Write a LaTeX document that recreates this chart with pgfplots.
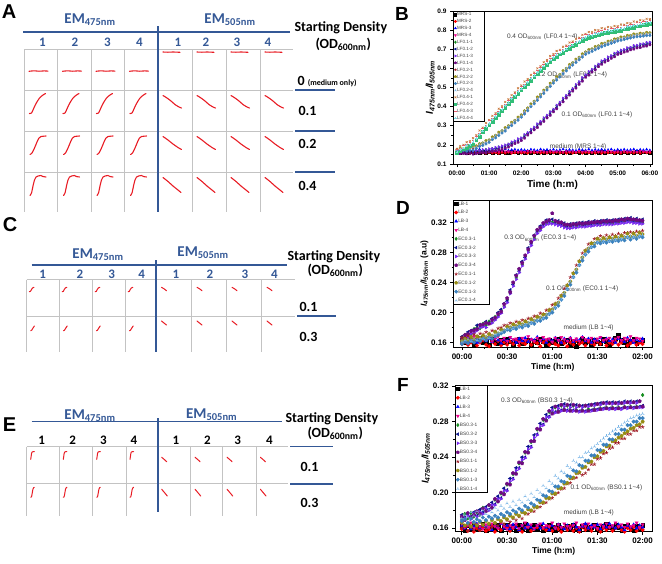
\documentclass[border=0pt]{standalone}
\usepackage{fontspec}
\setmainfont{Liberation Sans}
\newfontfamily\calib{Carlito}
\usepackage{pgfplots}
\usepackage{pgfplotstable}
\pgfplotsset{compat=1.18}

\newcommand\fs[1]{\fontsize{#1}{#1}\selectfont}
\newcommand\lb[2]{\makebox[#1][l]{#2}}

\definecolor{blueC}{RGB}{52,88,150}
\definecolor{gridc}{RGB}{195,195,195}
\definecolor{sparkred}{RGB}{232,28,36}
\definecolor{cgreen}{RGB}{20,140,30}
\definecolor{cnavy}{RGB}{10,20,140}
\definecolor{cviolet}{RGB}{120,40,240}
\definecolor{cpurple}{RGB}{110,10,130}
\definecolor{cwine}{RGB}{160,30,40}
\definecolor{colive}{RGB}{150,140,20}
\definecolor{csteel}{RGB}{60,130,190}
\definecolor{clblue}{RGB}{120,180,230}
\definecolor{corange}{RGB}{200,120,60}
\definecolor{cseagreen}{RGB}{50,190,120}
\definecolor{cpink}{RGB}{230,90,110}
\definecolor{ccyan}{RGB}{130,220,230}

% panel B: MRS medium, LF0.1, LF0.2, LF0.4 (time in min)
\pgfplotstableread{
t m1 m2 m3 m4 a1 a2 a3 a4 b1 b2 b3 b4 c1 c2 c3 c4
0 0.161 0.158 0.174 0.166 0.167 0.157 0.169 0.156 0.173 0.176 0.166 0.170 0.179 0.159 0.176 0.163
6 0.158 0.162 0.171 0.163 0.163 0.161 0.166 0.154 0.171 0.182 0.168 0.178 0.194 0.168 0.183 0.176
12 0.163 0.157 0.176 0.168 0.166 0.158 0.170 0.155 0.176 0.180 0.170 0.175 0.200 0.177 0.196 0.183
18 0.160 0.161 0.173 0.162 0.164 0.162 0.167 0.153 0.177 0.186 0.168 0.182 0.214 0.183 0.202 0.196
24 0.164 0.156 0.170 0.167 0.167 0.159 0.170 0.156 0.180 0.184 0.173 0.180 0.220 0.196 0.216 0.202
30 0.159 0.160 0.175 0.164 0.163 0.161 0.169 0.152 0.182 0.190 0.172 0.186 0.235 0.204 0.222 0.216
36 0.162 0.158 0.172 0.168 0.168 0.160 0.171 0.155 0.190 0.195 0.181 0.191 0.251 0.226 0.246 0.233
42 0.158 0.162 0.177 0.163 0.170 0.165 0.170 0.157 0.195 0.206 0.192 0.201 0.275 0.243 0.262 0.255
48 0.163 0.159 0.171 0.166 0.169 0.164 0.176 0.160 0.206 0.210 0.197 0.210 0.290 0.268 0.286 0.272
54 0.160 0.157 0.174 0.162 0.175 0.166 0.175 0.159 0.211 0.222 0.205 0.215 0.314 0.284 0.303 0.296
60 0.161 0.161 0.173 0.167 0.174 0.171 0.180 0.163 0.222 0.226 0.213 0.226 0.330 0.307 0.326 0.312
66 0.157 0.158 0.176 0.164 0.180 0.173 0.181 0.167 0.230 0.242 0.228 0.235 0.352 0.321 0.341 0.333
72 0.162 0.160 0.170 0.165 0.182 0.179 0.187 0.169 0.247 0.250 0.237 0.249 0.366 0.343 0.362 0.348
78 0.159 0.156 0.175 0.163 0.189 0.181 0.190 0.175 0.255 0.266 0.249 0.258 0.389 0.357 0.377 0.370
84 0.163 0.161 0.172 0.168 0.190 0.188 0.195 0.177 0.270 0.274 0.262 0.274 0.402 0.379 0.398 0.384
90 0.160 0.158 0.177 0.165 0.196 0.189 0.200 0.183 0.281 0.290 0.272 0.283 0.424 0.393 0.413 0.405
96 0.158 0.162 0.171 0.166 0.203 0.199 0.205 0.189 0.296 0.300 0.290 0.299 0.438 0.414 0.434 0.420
102 0.164 0.157 0.174 0.162 0.212 0.205 0.216 0.197 0.307 0.318 0.301 0.311 0.460 0.430 0.448 0.441
108 0.161 0.159 0.176 0.167 0.218 0.215 0.221 0.207 0.325 0.328 0.315 0.327 0.474 0.451 0.470 0.457
114 0.159 0.161 0.172 0.164 0.229 0.220 0.232 0.213 0.337 0.345 0.329 0.339 0.496 0.466 0.485 0.478
120 0.162 0.158 0.175 0.165 0.234 0.231 0.237 0.223 0.352 0.357 0.345 0.353 0.510 0.487 0.506 0.493
126 0.160 0.160 0.173 0.163 0.251 0.242 0.254 0.235 0.367 0.378 0.361 0.373 0.531 0.501 0.519 0.512
132 0.163 0.157 0.170 0.168 0.262 0.259 0.265 0.251 0.388 0.393 0.379 0.389 0.544 0.521 0.540 0.527
138 0.158 0.162 0.176 0.164 0.279 0.270 0.282 0.263 0.403 0.414 0.400 0.407 0.566 0.535 0.554 0.547
144 0.161 0.159 0.174 0.166 0.290 0.287 0.293 0.279 0.424 0.428 0.415 0.427 0.578 0.555 0.573 0.561
150 0.160 0.161 0.171 0.162 0.307 0.298 0.310 0.291 0.439 0.450 0.433 0.443 0.600 0.569 0.590 0.580
156 0.162 0.158 0.177 0.167 0.320 0.317 0.323 0.309 0.460 0.464 0.451 0.463 0.611 0.588 0.606 0.594
162 0.159 0.160 0.173 0.165 0.339 0.330 0.342 0.323 0.475 0.486 0.469 0.479 0.632 0.601 0.620 0.612
168 0.163 0.157 0.175 0.163 0.352 0.349 0.355 0.341 0.496 0.500 0.487 0.499 0.643 0.620 0.639 0.626
174 0.160 0.161 0.172 0.168 0.371 0.362 0.374 0.355 0.511 0.522 0.505 0.515 0.664 0.633 0.652 0.644
180 0.161 0.159 0.176 0.164 0.384 0.381 0.387 0.373 0.532 0.536 0.523 0.535 0.675 0.652 0.671 0.658
186 0.158 0.162 0.171 0.166 0.405 0.396 0.408 0.389 0.545 0.556 0.539 0.549 0.691 0.660 0.679 0.671
192 0.162 0.158 0.174 0.165 0.420 0.417 0.423 0.409 0.564 0.568 0.555 0.567 0.697 0.674 0.693 0.680
198 0.160 0.160 0.177 0.162 0.441 0.432 0.444 0.425 0.577 0.588 0.571 0.581 0.713 0.682 0.701 0.693
204 0.163 0.157 0.172 0.167 0.456 0.453 0.459 0.445 0.596 0.600 0.587 0.599 0.719 0.696 0.715 0.702
210 0.159 0.161 0.175 0.164 0.477 0.468 0.480 0.461 0.609 0.620 0.603 0.613 0.735 0.704 0.723 0.715
216 0.161 0.158 0.173 0.166 0.492 0.489 0.495 0.481 0.626 0.630 0.617 0.629 0.740 0.717 0.736 0.722
222 0.162 0.160 0.170 0.163 0.513 0.504 0.516 0.497 0.637 0.648 0.631 0.641 0.755 0.724 0.743 0.736
228 0.158 0.162 0.176 0.168 0.528 0.525 0.531 0.517 0.654 0.658 0.645 0.657 0.760 0.737 0.756 0.742
234 0.163 0.157 0.174 0.164 0.549 0.540 0.552 0.533 0.665 0.676 0.659 0.669 0.775 0.744 0.763 0.756
240 0.160 0.161 0.172 0.166 0.564 0.561 0.567 0.553 0.682 0.686 0.673 0.685 0.780 0.757 0.776 0.762
246 0.161 0.159 0.177 0.165 0.581 0.572 0.584 0.565 0.687 0.698 0.681 0.691 0.790 0.759 0.778 0.771
252 0.159 0.160 0.171 0.162 0.592 0.589 0.595 0.581 0.698 0.702 0.689 0.701 0.790 0.767 0.786 0.772
258 0.162 0.158 0.175 0.167 0.609 0.600 0.612 0.593 0.703 0.714 0.697 0.707 0.800 0.769 0.788 0.781
264 0.160 0.162 0.173 0.164 0.620 0.617 0.623 0.609 0.714 0.718 0.705 0.717 0.800 0.777 0.796 0.782
270 0.163 0.157 0.176 0.166 0.637 0.628 0.640 0.621 0.719 0.730 0.713 0.723 0.810 0.779 0.798 0.791
276 0.158 0.161 0.172 0.163 0.644 0.641 0.647 0.633 0.728 0.732 0.719 0.731 0.808 0.785 0.804 0.790
282 0.161 0.159 0.174 0.168 0.657 0.648 0.660 0.641 0.731 0.742 0.725 0.735 0.816 0.785 0.804 0.797
288 0.162 0.160 0.177 0.165 0.664 0.661 0.667 0.653 0.740 0.744 0.731 0.743 0.814 0.791 0.810 0.796
294 0.159 0.158 0.171 0.164 0.677 0.668 0.680 0.661 0.743 0.754 0.737 0.747 0.822 0.791 0.810 0.803
300 0.163 0.161 0.175 0.166 0.684 0.681 0.687 0.673 0.752 0.756 0.743 0.755 0.820 0.797 0.816 0.802
306 0.160 0.157 0.173 0.163 0.693 0.684 0.696 0.677 0.753 0.764 0.747 0.757 0.829 0.798 0.817 0.810
312 0.161 0.162 0.176 0.167 0.696 0.693 0.699 0.685 0.760 0.764 0.751 0.763 0.828 0.805 0.824 0.810
318 0.158 0.159 0.172 0.165 0.705 0.696 0.708 0.689 0.761 0.772 0.755 0.765 0.837 0.806 0.825 0.818
324 0.162 0.160 0.174 0.164 0.708 0.705 0.711 0.697 0.768 0.772 0.759 0.771 0.836 0.813 0.832 0.818
330 0.160 0.158 0.177 0.166 0.717 0.708 0.720 0.701 0.769 0.780 0.763 0.773 0.845 0.814 0.833 0.826
336 0.163 0.161 0.171 0.163 0.718 0.715 0.721 0.707 0.774 0.778 0.765 0.777 0.843 0.820 0.839 0.825
342 0.159 0.157 0.175 0.168 0.725 0.716 0.728 0.709 0.773 0.784 0.767 0.777 0.852 0.821 0.840 0.833
348 0.161 0.162 0.173 0.165 0.726 0.723 0.729 0.715 0.778 0.782 0.769 0.781 0.850 0.827 0.846 0.832
354 0.162 0.159 0.176 0.164 0.733 0.724 0.736 0.717 0.777 0.788 0.771 0.781 0.859 0.828 0.847 0.840
360 0.160 0.160 0.172 0.166 0.734 0.731 0.737 0.723 0.782 0.786 0.773 0.785 0.857 0.834 0.853 0.839
}\dataB

% panel D: LB medium, EC0.3, EC0.1
\pgfplotstableread{
t l1 l2 l3 l4 h1 h2 h3 h4 k1 k2 k3 k4
0 0.163 0.158 0.162 0.166 0.166 0.168 0.162 0.164 0.167 0.162 0.158 0.161
2 0.160 0.161 0.165 0.162 0.170 0.167 0.165 0.170 0.166 0.165 0.161 0.163
4 0.165 0.157 0.161 0.167 0.172 0.174 0.168 0.171 0.169 0.163 0.159 0.164
6 0.161 0.160 0.166 0.163 0.171 0.176 0.172 0.175 0.167 0.167 0.162 0.162
8 0.158 0.162 0.163 0.168 0.178 0.177 0.173 0.176 0.171 0.164 0.160 0.165
10 0.163 0.156 0.160 0.165 0.180 0.183 0.176 0.178 0.169 0.168 0.163 0.163
12 0.166 0.160 0.164 0.161 0.179 0.184 0.180 0.183 0.172 0.166 0.162 0.166
14 0.160 0.163 0.167 0.166 0.185 0.182 0.181 0.184 0.171 0.169 0.165 0.165
16 0.162 0.157 0.162 0.163 0.183 0.188 0.180 0.186 0.174 0.167 0.163 0.168
18 0.157 0.155 0.165 0.167 0.188 0.186 0.185 0.185 0.172 0.171 0.166 0.166
20 0.164 0.161 0.161 0.162 0.187 0.192 0.186 0.190 0.176 0.169 0.165 0.169
22 0.161 0.158 0.166 0.165 0.194 0.191 0.190 0.193 0.175 0.174 0.168 0.171
24 0.159 0.162 0.163 0.168 0.196 0.200 0.194 0.198 0.179 0.172 0.170 0.173
26 0.163 0.156 0.159 0.163 0.203 0.204 0.199 0.201 0.180 0.177 0.172 0.174
28 0.160 0.160 0.164 0.166 0.208 0.212 0.207 0.211 0.183 0.176 0.174 0.177
30 0.165 0.157 0.162 0.162 0.217 0.215 0.213 0.219 0.183 0.181 0.177 0.178
32 0.161 0.161 0.166 0.167 0.226 0.230 0.225 0.227 0.186 0.180 0.176 0.180
34 0.158 0.158 0.163 0.164 0.239 0.237 0.235 0.240 0.185 0.184 0.179 0.179
36 0.162 0.163 0.160 0.165 0.246 0.250 0.244 0.249 0.188 0.182 0.178 0.182
38 0.164 0.156 0.165 0.161 0.257 0.255 0.253 0.258 0.187 0.186 0.181 0.181
40 0.159 0.160 0.162 0.166 0.264 0.268 0.262 0.266 0.190 0.184 0.180 0.184
42 0.161 0.158 0.166 0.163 0.275 0.273 0.271 0.276 0.189 0.188 0.183 0.183
44 0.163 0.162 0.161 0.168 0.282 0.286 0.280 0.284 0.192 0.186 0.182 0.186
46 0.157 0.157 0.164 0.164 0.293 0.291 0.289 0.294 0.192 0.191 0.186 0.186
48 0.162 0.161 0.163 0.162 0.299 0.303 0.297 0.302 0.195 0.189 0.185 0.189
50 0.160 0.159 0.167 0.166 0.309 0.307 0.305 0.310 0.195 0.194 0.189 0.189
52 0.164 0.155 0.162 0.163 0.311 0.315 0.309 0.313 0.199 0.193 0.189 0.193
54 0.161 0.160 0.165 0.167 0.318 0.316 0.314 0.319 0.198 0.197 0.192 0.192
56 0.158 0.162 0.160 0.164 0.319 0.323 0.317 0.321 0.203 0.197 0.193 0.197
58 0.163 0.157 0.164 0.165 0.322 0.320 0.318 0.323 0.204 0.203 0.198 0.198
60 0.160 0.161 0.162 0.161 0.320 0.324 0.318 0.332 0.210 0.204 0.200 0.203
62 0.162 0.158 0.166 0.166 0.321 0.319 0.317 0.322 0.212 0.211 0.206 0.206
64 0.165 0.156 0.163 0.163 0.318 0.322 0.316 0.320 0.219 0.213 0.209 0.213
66 0.159 0.161 0.160 0.167 0.319 0.317 0.315 0.320 0.223 0.222 0.217 0.217
68 0.161 0.159 0.165 0.164 0.315 0.319 0.313 0.317 0.232 0.226 0.222 0.226
70 0.163 0.155 0.162 0.162 0.316 0.314 0.312 0.317 0.237 0.236 0.231 0.231
72 0.158 0.160 0.166 0.166 0.314 0.318 0.312 0.316 0.247 0.241 0.237 0.241
74 0.162 0.157 0.161 0.163 0.317 0.315 0.313 0.318 0.253 0.252 0.247 0.247
76 0.155 0.162 0.164 0.165 0.315 0.319 0.313 0.317 0.263 0.257 0.253 0.257
78 0.161 0.158 0.163 0.162 0.318 0.316 0.314 0.319 0.269 0.268 0.263 0.263
80 0.164 0.160 0.167 0.167 0.316 0.320 0.314 0.318 0.279 0.273 0.269 0.273
82 0.160 0.156 0.162 0.164 0.318 0.316 0.314 0.319 0.283 0.282 0.277 0.277
84 0.162 0.161 0.165 0.163 0.317 0.321 0.315 0.319 0.291 0.285 0.281 0.285
86 0.158 0.159 0.160 0.166 0.319 0.317 0.315 0.320 0.293 0.292 0.287 0.287
88 0.163 0.157 0.164 0.162 0.318 0.322 0.316 0.320 0.298 0.292 0.288 0.292
90 0.161 0.161 0.163 0.165 0.320 0.318 0.316 0.321 0.299 0.298 0.293 0.293
92 0.159 0.158 0.166 0.167 0.318 0.322 0.316 0.320 0.302 0.296 0.292 0.296
94 0.164 0.162 0.161 0.163 0.321 0.319 0.317 0.322 0.300 0.299 0.294 0.294
96 0.162 0.156 0.165 0.164 0.319 0.323 0.317 0.321 0.303 0.297 0.293 0.297
98 0.157 0.160 0.162 0.166 0.321 0.319 0.317 0.322 0.301 0.300 0.295 0.295
100 0.161 0.158 0.164 0.162 0.319 0.323 0.317 0.321 0.304 0.298 0.294 0.298
102 0.166 0.161 0.160 0.165 0.322 0.320 0.318 0.323 0.302 0.301 0.296 0.296
104 0.170 0.157 0.165 0.167 0.320 0.324 0.318 0.322 0.305 0.299 0.295 0.299
106 0.163 0.160 0.163 0.163 0.323 0.321 0.319 0.324 0.303 0.302 0.297 0.297
108 0.160 0.162 0.161 0.166 0.321 0.325 0.319 0.323 0.306 0.300 0.296 0.300
110 0.158 0.156 0.166 0.164 0.324 0.322 0.320 0.325 0.306 0.305 0.300 0.300
112 0.162 0.159 0.163 0.168 0.322 0.326 0.320 0.324 0.307 0.301 0.297 0.301
114 0.165 0.161 0.160 0.163 0.323 0.321 0.319 0.324 0.306 0.305 0.300 0.300
116 0.159 0.157 0.164 0.166 0.321 0.325 0.319 0.323 0.308 0.302 0.298 0.302
118 0.161 0.160 0.162 0.165 0.322 0.320 0.318 0.323 0.307 0.306 0.301 0.301
120 0.163 0.158 0.165 0.162 0.320 0.324 0.318 0.322 0.309 0.304 0.300 0.303
}\dataD

% panel F: LB medium, BS0.3, BS0.1
\pgfplotstableread{
t l1 l2 l3 l4 s1 s2 s3 s4 q1 q2 q3 q4
0 0.162 0.159 0.163 0.165 0.170 0.175 0.168 0.173 0.160 0.166 0.168 0.171
2 0.158 0.161 0.160 0.161 0.176 0.172 0.171 0.169 0.162 0.163 0.170 0.175
4 0.163 0.157 0.164 0.163 0.171 0.176 0.174 0.177 0.157 0.165 0.166 0.172
6 0.160 0.162 0.159 0.166 0.177 0.173 0.170 0.172 0.161 0.162 0.171 0.178
8 0.164 0.156 0.162 0.160 0.173 0.178 0.176 0.175 0.158 0.166 0.167 0.174
10 0.159 0.160 0.165 0.164 0.178 0.174 0.173 0.179 0.162 0.163 0.170 0.179
12 0.161 0.158 0.160 0.162 0.175 0.181 0.178 0.176 0.158 0.167 0.168 0.175
14 0.165 0.161 0.163 0.159 0.183 0.178 0.176 0.182 0.163 0.164 0.172 0.180
16 0.157 0.157 0.161 0.164 0.179 0.184 0.182 0.179 0.160 0.168 0.169 0.176
18 0.153 0.159 0.164 0.161 0.186 0.181 0.180 0.186 0.164 0.165 0.173 0.181
20 0.162 0.162 0.158 0.165 0.183 0.189 0.186 0.183 0.161 0.169 0.171 0.178
22 0.160 0.156 0.163 0.162 0.192 0.187 0.186 0.193 0.165 0.166 0.174 0.183
24 0.163 0.160 0.161 0.160 0.190 0.196 0.193 0.190 0.163 0.170 0.172 0.180
26 0.158 0.158 0.165 0.166 0.199 0.194 0.193 0.200 0.167 0.168 0.176 0.185
28 0.161 0.155 0.160 0.162 0.199 0.205 0.202 0.198 0.165 0.172 0.174 0.182
30 0.164 0.161 0.163 0.159 0.209 0.203 0.202 0.210 0.169 0.170 0.178 0.188
32 0.159 0.157 0.159 0.163 0.210 0.216 0.213 0.209 0.167 0.174 0.176 0.184
34 0.162 0.160 0.164 0.161 0.221 0.216 0.215 0.222 0.171 0.172 0.180 0.190
36 0.157 0.163 0.161 0.165 0.222 0.228 0.225 0.221 0.169 0.176 0.178 0.186
38 0.163 0.158 0.158 0.160 0.233 0.228 0.227 0.234 0.173 0.174 0.182 0.192
40 0.160 0.156 0.163 0.163 0.234 0.240 0.237 0.233 0.171 0.178 0.180 0.189
42 0.165 0.160 0.160 0.166 0.245 0.240 0.239 0.246 0.176 0.177 0.185 0.196
44 0.158 0.162 0.164 0.161 0.246 0.252 0.249 0.245 0.176 0.181 0.183 0.192
46 0.161 0.157 0.161 0.164 0.257 0.252 0.251 0.258 0.179 0.180 0.188 0.199
48 0.163 0.159 0.159 0.160 0.259 0.265 0.262 0.258 0.179 0.184 0.186 0.195
50 0.159 0.161 0.163 0.163 0.271 0.266 0.265 0.272 0.183 0.184 0.192 0.203
52 0.162 0.155 0.160 0.165 0.272 0.278 0.275 0.271 0.184 0.189 0.191 0.200
54 0.157 0.160 0.165 0.161 0.282 0.277 0.276 0.283 0.188 0.189 0.197 0.208
56 0.160 0.158 0.161 0.163 0.282 0.288 0.285 0.281 0.189 0.194 0.196 0.205
58 0.164 0.162 0.158 0.162 0.291 0.286 0.285 0.292 0.193 0.194 0.202 0.213
60 0.161 0.157 0.163 0.166 0.290 0.296 0.293 0.289 0.194 0.199 0.201 0.210
62 0.158 0.161 0.160 0.160 0.296 0.291 0.290 0.297 0.198 0.199 0.207 0.219
64 0.163 0.159 0.164 0.164 0.292 0.298 0.295 0.291 0.200 0.205 0.207 0.216
66 0.160 0.156 0.161 0.161 0.298 0.293 0.292 0.299 0.204 0.205 0.213 0.224
68 0.155 0.160 0.159 0.165 0.294 0.300 0.297 0.293 0.205 0.210 0.212 0.222
70 0.162 0.158 0.163 0.162 0.298 0.293 0.292 0.299 0.210 0.211 0.219 0.230
72 0.159 0.162 0.160 0.160 0.293 0.299 0.296 0.292 0.211 0.216 0.218 0.228
74 0.163 0.157 0.164 0.163 0.298 0.293 0.292 0.299 0.216 0.217 0.225 0.236
76 0.160 0.160 0.161 0.166 0.293 0.299 0.296 0.292 0.217 0.222 0.224 0.234
78 0.158 0.156 0.158 0.161 0.298 0.292 0.291 0.298 0.222 0.223 0.231 0.240
80 0.162 0.161 0.162 0.164 0.293 0.298 0.296 0.292 0.220 0.228 0.230 0.240
82 0.164 0.158 0.165 0.162 0.298 0.292 0.291 0.298 0.222 0.229 0.236 0.245
84 0.159 0.160 0.160 0.165 0.294 0.299 0.297 0.292 0.226 0.234 0.236 0.246
86 0.161 0.157 0.163 0.161 0.299 0.293 0.292 0.299 0.232 0.235 0.242 0.250
88 0.163 0.162 0.161 0.163 0.294 0.300 0.298 0.293 0.232 0.240 0.242 0.252
90 0.160 0.159 0.164 0.160 0.300 0.294 0.293 0.300 0.238 0.241 0.248 0.255
92 0.157 0.156 0.159 0.164 0.295 0.301 0.299 0.294 0.239 0.246 0.248 0.258
94 0.162 0.160 0.163 0.162 0.301 0.295 0.294 0.301 0.244 0.247 0.254 0.261
96 0.165 0.158 0.161 0.165 0.296 0.302 0.300 0.295 0.245 0.252 0.254 0.264
98 0.161 0.161 0.165 0.161 0.301 0.295 0.294 0.301 0.250 0.253 0.260 0.266
100 0.159 0.157 0.162 0.163 0.296 0.302 0.300 0.295 0.251 0.258 0.260 0.269
102 0.163 0.160 0.160 0.166 0.301 0.295 0.294 0.301 0.256 0.259 0.266 0.271
104 0.161 0.162 0.164 0.162 0.296 0.302 0.300 0.295 0.256 0.262 0.266 0.274
106 0.158 0.158 0.161 0.164 0.301 0.295 0.294 0.301 0.261 0.264 0.271 0.276
108 0.162 0.156 0.158 0.161 0.297 0.303 0.301 0.296 0.261 0.267 0.271 0.279
110 0.164 0.160 0.163 0.165 0.302 0.296 0.295 0.302 0.266 0.269 0.276 0.281
112 0.160 0.158 0.161 0.162 0.297 0.303 0.301 0.296 0.266 0.272 0.276 0.284
114 0.157 0.161 0.164 0.163 0.302 0.296 0.295 0.302 0.270 0.273 0.280 0.285
116 0.162 0.157 0.160 0.166 0.297 0.303 0.301 0.296 0.270 0.276 0.280 0.287
118 0.159 0.160 0.163 0.161 0.303 0.297 0.296 0.303 0.274 0.277 0.284 0.288
120 0.163 0.158 0.161 0.164 0.310 0.298 0.296 0.297 0.274 0.280 0.284 0.289
}\dataF

\pgfplotsset{
  s1/.style={only marks, mark=square*, color=black},
  s2/.style={only marks, mark=*, color=red},
  s3/.style={only marks, mark=triangle*, color=blue},
  s4/.style={only marks, mark=triangle*, mark options={rotate=180}, color=magenta},
  s5/.style={only marks, mark=diamond*, color=cgreen},
  s6/.style={only marks, mark=triangle*, mark options={rotate=90}, color=cnavy},
  s7/.style={only marks, mark=triangle*, mark options={rotate=-90}, color=cviolet},
  s8/.style={only marks, mark=pentagon*, color=cpurple},
  s9/.style={only marks, mark=star, color=cwine, line width=0.6pt},
  s10/.style={only marks, mark=pentagon*, color=colive},
  s11/.style={only marks, mark=*, color=csteel},
  s12/.style={only marks, mark=Mercedes star, color=clblue, line width=0.6pt},
  s13/.style={only marks, mark=x, color=corange, line width=0.6pt},
  s14/.style={only marks, mark=square*, color=cseagreen},
  s15/.style={only marks, mark=-, color=cpink, line width=0.6pt},
  s16/.style={only marks, mark=+, color=ccyan, line width=0.6pt},
  panel/.style={scale only axis, anchor=south west, clip mode=individual,
    axis line style={line width=0.9pt}, tick style={line width=0.7pt, black},
    tick align=outside, xtick pos=left, ytick pos=left,
    major tick length=3pt, minor tick length=1.6pt,
    minor x tick num=1, minor y tick num=1,
    /pgf/number format/assume math mode=true,
    legend cell align=left,
    legend style={at={(0,1)}, anchor=north west, draw=black, line width=0.5pt, fill=white,
      inner sep=1pt, text=black!75},
  },
  spark/.style={sparkred, line width=1.1pt, line join=round, line cap=round, no marks, smooth},
}
\tikzset{anno/.style={font=\fs{6.5}, text=black!75, inner sep=0pt, anchor=west}}

\begin{document}
\begin{tikzpicture}[x=1pt,y=1pt]
\path[use as bounding box] (0,0) rectangle (662,-563);

% ---------- table A ----------
\foreach \x in {24,57.5,91,124.5,192,226,260} \draw[gridc, line width=0.6pt] (\x,-49) -- (\x,-212);
\foreach \y in {49,90,131,172} \draw[gridc, line width=0.6pt] (24,-\y) -- (293,-\y);
\draw[blueC, line width=1.3pt] (23,-32) -- (290,-32);
\draw[blueC, line width=1.3pt] (158,-26) -- (158,-212);
\foreach \y in {90,131,172} \draw[blueC, line width=1.3pt] (295,-\y) -- (335,-\y);
\node[font=\fs{20}\bfseries] at (9,-12) {A};
\node[blueC, font=\calib\bfseries\fs{15}] at (90,-20) {EM\textsubscript{475nm}};
\node[blueC, font=\calib\bfseries\fs{15}] at (230,-20) {EM\textsubscript{505nm}};
\foreach \x/\n in {42.3/1,75/2,107.3/3,139.3/4,178/1,206/2,237/3,268/4}
  \node[blueC, font=\calib\bfseries\fs{13}] at (\x,-42) {\n};
\node[anchor=west, font=\calib\bfseries\fs{14}] at (291,-28) {Starting Density};
\node[anchor=west, font=\calib\bfseries\fs{14}] at (312,-44) {(OD\textsubscript{600nm})};
\node[anchor=west, font=\calib\bfseries\fs{14}] at (294,-82) {0 {\fs{8}(medium only)}};
\node[anchor=west, font=\calib\bfseries\fs{14}] at (295,-111) {0.1};
\node[anchor=west, font=\calib\bfseries\fs{14}] at (295,-144) {0.2};
\node[anchor=west, font=\calib\bfseries\fs{14}] at (295,-186) {0.4};

% ---------- table C ----------
\foreach \x in {26.7,59.5,92.5,125.5,191.5,226.5,261.5} \draw[gridc, line width=0.6pt] (\x,-279.5) -- (\x,-352);
\foreach \y in {279.5,316} \draw[gridc, line width=0.6pt] (26.7,-\y) -- (295,-\y);
\draw[blueC, line width=1.3pt] (31.7,-265) -- (286.7,-265);
\draw[blueC, line width=1.3pt] (156,-260) -- (156,-352);
\draw[blueC, line width=1.3pt] (297,-316) -- (336,-316);
\node[font=\fs{20}\bfseries] at (10,-225) {C};
\node[blueC, font=\calib\bfseries\fs{15}] at (98,-255) {EM\textsubscript{475nm}};
\node[blueC, font=\calib\bfseries\fs{15}] at (203,-253) {EM\textsubscript{505nm}};
\foreach \x/\n in {42.7/1,80/2,111.7/3,141.7/4,176/1,210/2,245/3,274.3/4}
  \node[blueC, font=\calib\bfseries\fs{13}] at (\x,-274) {\n};
\node[anchor=west, font=\calib\bfseries\fs{14}] at (284,-257) {Starting Density};
\node[anchor=west, font=\calib\bfseries\fs{14}] at (304,-270) {(OD\textsubscript{600nm})};
\node[anchor=west, font=\calib\bfseries\fs{14}] at (296,-306.7) {0.1};
\node[anchor=west, font=\calib\bfseries\fs{14}] at (296,-336.7) {0.3};

% ---------- table E ----------
\foreach \x in {26.7,59.3,92.7,126,190.7,222.7,256} \draw[gridc, line width=0.6pt] (\x,-446.7) -- (\x,-516);
\foreach \y in {446.7,483.3} \draw[gridc, line width=0.6pt] (26.7,-\y) -- (288.3,-\y);
\draw[blueC, line width=1.3pt] (31.7,-421.7) -- (281.7,-421.7);
\draw[blueC, line width=1.7pt] (158,-418) -- (158,-512);
\foreach \y in {446.7,484} \draw[blueC, line width=1.3pt] (290,-\y) -- (333,-\y);
\node[font=\fs{20}\bfseries] at (9.5,-425) {E};
\node[blueC, font=\calib\bfseries\fs{15}] at (90,-416) {EM\textsubscript{475nm}};
\node[blueC, font=\calib\bfseries\fs{15}] at (211.7,-415) {EM\textsubscript{505nm}};
\foreach \x/\n in {41.7/1,72.7/2,103.3/3,134/4,176/1,207.3/2,237.7/3,269.3/4}
  \node[font=\calib\bfseries\fs{13}] at (\x,-440) {\n};
\node[anchor=west, font=\calib\bfseries\fs{14}] at (282,-418.3) {Starting Density};
\node[anchor=west, font=\calib\bfseries\fs{14}] at (304,-433.3) {(OD\textsubscript{600nm})};
\node[anchor=west, font=\calib\bfseries\fs{14}] at (297,-466.7) {0.1};
\node[anchor=west, font=\calib\bfseries\fs{14}] at (297,-502.7) {0.3};

% ---------- sparklines (pixel coordinates, y down) ----------
\begin{axis}[at={(0pt,-563pt)}, anchor=south west, scale only axis, width=400pt, height=563pt,
  xmin=0, xmax=400, ymin=0, ymax=563, y dir=reverse, hide axis, clip=false]
% A
\pgfplotsinvokeforeach{24,57.5,91,124.5}{
  \addplot[spark, xshift=#1pt, yshift=-49pt] coordinates {(5,22.3) (10,21.8) (15,22.2) (20,21.9) (24,22.1)};
  \addplot[spark, xshift=#1pt, yshift=-90pt] coordinates {(5.5,23.5) (7.5,23) (9,20) (11,15.5) (13.5,11) (16,7.5) (19,5) (21.5,3.5)};
  \addplot[spark, xshift=#1pt, yshift=-131pt] coordinates {(6,23.5) (8,22) (10.5,17) (13,11) (15,7) (17,5.5) (22,5)};
  \addplot[spark, xshift=#1pt, yshift=-172pt] coordinates {(6,23.5) (7.5,21) (9,14) (10.5,8) (12,5) (14,4) (17,3.5) (19,4.5) (22,5)};
}
\pgfplotsinvokeforeach{158,192,226,260}{
  \addplot[spark, xshift=#1pt, yshift=-49pt] coordinates {(5,3) (10,3.2) (15,3) (22,3.3)};
  \addplot[spark, xshift=#1pt, yshift=-90pt] coordinates {(5,5.5) (9,8) (13,11) (17,14.5) (21,17) (23.5,18)};
  \addplot[spark, xshift=#1pt, yshift=-131pt] coordinates {(5,5.5) (10,9) (15,13) (20,16.5) (23.5,18.5)};
  \addplot[spark, xshift=#1pt, yshift=-172pt] coordinates {(5,5.5) (10,9.5) (15,14) (20,18) (23,20.5)};
}
% C
\pgfplotsinvokeforeach{26.7,59.5,92.5,125.5}{
  \addplot[spark, line width=1pt, xshift=#1pt, yshift=-279.5pt] coordinates {(2.7,12.2) (3.8,11.8) (4.8,10) (5.8,8.5) (7.3,7.8)};
  \addplot[spark, line width=1pt, xshift=#1pt, yshift=-316pt] coordinates {(4,14.7) (5,14.2) (6,12.5) (7,11) (7.7,10)};
}
\pgfplotsinvokeforeach{156,191.5,226.5,261.5}{
  \addplot[spark, line width=1pt, xshift=#1pt, yshift=-279.5pt] coordinates {(5.5,7.8) (8,9.3) (10.5,11.2)};
  \addplot[spark, line width=1pt, xshift=#1pt, yshift=-316pt] coordinates {(5.5,5) (8,7) (10.5,9)};
}
% E
\pgfplotsinvokeforeach{26.7,59.3,92.7,126}{
  \addplot[spark, line width=1pt, xshift=#1pt, yshift=-446.7pt] coordinates {(4,12.6) (4.4,10) (4.8,7) (5.3,5.4) (6.3,5) (7.6,5)};
  \addplot[spark, line width=1pt, xshift=#1pt, yshift=-483.3pt] coordinates {(4,14) (4.8,13.5) (5.5,10) (6.2,6) (7,4.3) (7.6,4)};
}
\pgfplotsinvokeforeach{157.3,190.7,222.7,256}{
  \addplot[spark, line width=1pt, xshift=#1pt, yshift=-446.7pt] coordinates {(4.4,10.6) (7,12.8) (9.4,15)};
  \addplot[spark, line width=1pt, xshift=#1pt, yshift=-483.3pt] coordinates {(4.4,6) (7.2,9.3) (10,12.7)};
}
\end{axis}

% ---------- panel B ----------
\node[font=\fs{19}\bfseries] at (402,-14) {B};
\begin{axis}[panel, at={(453pt,-164pt)}, width=199pt, height=153pt,
  xmin=-7.5, xmax=364, ymin=0.1, ymax=0.9,
  xtick={0,60,120,180,240,300,360},
  xticklabels={00:00,01:00,02:00,03:00,04:00,05:00,06:00},
  ytick={0.1,0.2,0.3,0.4,0.5,0.6,0.7,0.8,0.9},
  yticklabel style={/pgf/number format/.cd,fixed,fixed zerofill,precision=1},
  tick label style={font=\bfseries\fs{6.5}},
  xlabel={Time (h:m)}, xlabel style={font=\bfseries\fs{10}, yshift=2pt},
  ylabel={\bfseries\itshape I\textsubscript{475nm}/I\textsubscript{505nm}},
  ylabel style={font=\fs{10}, yshift=-4pt},
  every axis plot/.append style={mark size=1.35pt},
  legend image code/.code={\draw[mark repeat=2,mark phase=2,#1] plot coordinates {(0pt,0pt) (4.5pt,0pt) (9pt,0pt)};},
  legend style={font=\fs{4.6}, row sep=2.3pt, nodes={inner sep=0.5pt, text height=3.2pt, text depth=0.4pt}},
  legend image post style={mark size=1.2pt},
]
\node[anno] at (axis cs:93,0.765) {0.4 OD\textsubscript{600nm} (LF0.4 1\textasciitilde4)};
\node[anno] at (axis cs:148,0.564) {0.2 OD\textsubscript{600nm} (LF0.2 1\textasciitilde4)};
\node[anno] at (axis cs:195,0.359) {0.1 OD\textsubscript{600nm} (LF0.1 1\textasciitilde4)};
\node[anno] at (axis cs:173,0.189) {medium (MRS 1\textasciitilde4)};
\addplot[s1] table[x=t,y=m1]{\dataB};
\addplot[s2] table[x=t,y=m2]{\dataB};
\addplot[s3] table[x=t,y=m3]{\dataB};
\addplot[s4] table[x=t,y=m4]{\dataB};
\addplot[s5] table[x=t,y=a1]{\dataB};
\addplot[s6] table[x=t,y=a2]{\dataB};
\addplot[s7] table[x=t,y=a3]{\dataB};
\addplot[s8] table[x=t,y=a4]{\dataB};
\addplot[s9] table[x=t,y=b1]{\dataB};
\addplot[s10] table[x=t,y=b2]{\dataB};
\addplot[s11] table[x=t,y=b3]{\dataB};
\addplot[s12] table[x=t,y=b4]{\dataB};
\addplot[s13] table[x=t,y=c1]{\dataB};
\addplot[s14] table[x=t,y=c2]{\dataB};
\addplot[s15] table[x=t,y=c3]{\dataB};
\addplot[s16] table[x=t,y=c4]{\dataB};
\legend{\lb{26pt}{MRS-1},\lb{26pt}{MRS-2},\lb{26pt}{MRS-3},\lb{26pt}{MRS-4},\lb{26pt}{LF0.1-1},\lb{26pt}{LF0.1-2},\lb{26pt}{LF0.1-3},\lb{26pt}{LF0.1-4},\lb{26pt}{LF0.2-1},\lb{26pt}{LF0.2-2},\lb{26pt}{LF0.2-3},\lb{26pt}{LF0.2-4},\lb{26pt}{LF0.4-1},\lb{26pt}{LF0.4-2},\lb{26pt}{LF0.4-3},\lb{26pt}{LF0.4-4}}
\end{axis}

% ---------- panel D ----------
\node[font=\fs{19}\bfseries] at (403,-208) {D};
\begin{axis}[panel, at={(453.3pt,-347pt)}, width=199pt, height=147pt,
  xmin=-5.8, xmax=126.5, ymin=0.154, ymax=0.3497,
  xtick={0,30,60,90,120},
  xticklabels={00:00,00:30,01:00,01:30,02:00},
  ytick={0.16,0.20,0.24,0.28,0.32},
  yticklabel style={/pgf/number format/.cd,fixed,fixed zerofill,precision=2},
  tick label style={font=\bfseries\fs{8}},
  xlabel={Time (h:m)}, xlabel style={font=\bfseries\fs{8.5}, yshift=3pt},
  ylabel={{\bfseries\itshape I\textsubscript{475nm}/I\textsubscript{505nm}} \bfseries(a.u)},
  ylabel style={font=\fs{8.5}, yshift=-4pt},
  every axis plot/.append style={mark size=1.8pt},
  legend image code/.code={\draw[mark repeat=2,mark phase=2,#1] plot coordinates {(0pt,0pt) (5pt,0pt) (10pt,0pt)};},
  legend style={font=\fs{4.8}, row sep=4pt, nodes={inner sep=0.5pt, text height=3.4pt, text depth=0.4pt}},
  legend image post style={mark size=1.6pt},
]
\node[anno] at (axis cs:28,0.2987) {0.3 OD\textsubscript{600nm} (EC0.3 1\textasciitilde4)};
\node[anno] at (axis cs:55.8,0.232) {0.1 OD\textsubscript{600nm} (EC0.1 1\textasciitilde4)};
\node[anno] at (axis cs:67.4,0.180) {medium (LB 1\textasciitilde4)};
\addplot[s1] table[x=t,y=l1]{\dataD};
\addplot[s2] table[x=t,y=l2]{\dataD};
\addplot[s3] table[x=t,y=l3]{\dataD};
\addplot[s4] table[x=t,y=l4]{\dataD};
\addplot[s5] table[x=t,y=h1]{\dataD};
\addplot[s6] table[x=t,y=h2]{\dataD};
\addplot[s7] table[x=t,y=h3]{\dataD};
\addplot[s8] table[x=t,y=h4]{\dataD};
\addplot[s9] table[x=t,y=k1]{\dataD};
\addplot[s10] table[x=t,y=k2]{\dataD};
\addplot[s11] table[x=t,y=k3]{\dataD};
\addplot[s12] table[x=t,y=k4]{\dataD};
\legend{\lb{29pt}{LB-1},\lb{29pt}{LB-2},\lb{29pt}{LB-3},\lb{29pt}{LB-4},\lb{29pt}{EC0.3-1},\lb{29pt}{EC0.3-2},\lb{29pt}{EC0.3-3},\lb{29pt}{EC0.3-4},\lb{29pt}{EC0.1-1},\lb{29pt}{EC0.1-2},\lb{29pt}{EC0.1-3},\lb{29pt}{EC0.1-4}}
\end{axis}

% ---------- panel F ----------
\node[font=\fs{19}\bfseries] at (403,-385) {F};
\begin{axis}[panel, at={(455pt,-531.7pt)}, width=197.3pt, height=146.7pt,
  xmin=-4.5, xmax=126.4, ymin=0.156, ymax=0.3213,
  xtick={0,30,60,90,120},
  xticklabels={00:00,00:30,01:00,01:30,02:00},
  ytick={0.16,0.20,0.24,0.28,0.32},
  yticklabel style={/pgf/number format/.cd,fixed,fixed zerofill,precision=2},
  tick label style={font=\bfseries\fs{8}},
  xlabel={Time (h:m)}, xlabel style={font=\bfseries\fs{8.5}, yshift=3pt},
  ylabel={\bfseries\itshape I\textsubscript{475nm}/I\textsubscript{505nm}},
  ylabel style={font=\fs{9.5}, yshift=-4pt},
  every axis plot/.append style={mark size=1.8pt},
  legend image code/.code={\draw[mark repeat=2,mark phase=2,#1] plot coordinates {(0pt,0pt) (5pt,0pt) (10pt,0pt)};},
  legend style={font=\fs{4.8}, row sep=4.3pt, nodes={inner sep=0.5pt, text height=3.4pt, text depth=0.4pt}},
  legend image post style={mark size=1.6pt},
]
\node[anno] at (axis cs:26,0.3031) {0.3 OD\textsubscript{600nm} (BS0.3 1\textasciitilde4)};
\node[anno] at (axis cs:72,0.2057) {0.1 OD\textsubscript{600nm} (BS0.1 1\textasciitilde4)};
\node[anno] at (axis cs:67.6,0.1776) {medium (LB 1\textasciitilde4)};
\addplot[s1] table[x=t,y=l1]{\dataF};
\addplot[s2] table[x=t,y=l2]{\dataF};
\addplot[s3] table[x=t,y=l3]{\dataF};
\addplot[s4] table[x=t,y=l4]{\dataF};
\addplot[s5] table[x=t,y=s1]{\dataF};
\addplot[s6] table[x=t,y=s2]{\dataF};
\addplot[s7] table[x=t,y=s3]{\dataF};
\addplot[s8] table[x=t,y=s4]{\dataF};
\addplot[s9] table[x=t,y=q1]{\dataF};
\addplot[s10] table[x=t,y=q2]{\dataF};
\addplot[s11] table[x=t,y=q3]{\dataF};
\addplot[s12] table[x=t,y=q4]{\dataF};
\legend{\lb{26pt}{LB-1},\lb{26pt}{LB-2},\lb{26pt}{LB-3},\lb{26pt}{LB-4},\lb{26pt}{BS0.3-1},\lb{26pt}{BS0.3-2},\lb{26pt}{BS0.3-3},\lb{26pt}{BS0.3-4},\lb{26pt}{BS0.1-1},\lb{26pt}{BS0.1-2},\lb{26pt}{BS0.1-3},\lb{26pt}{BS0.1-4}}
\end{axis}
\end{tikzpicture}
\end{document}
